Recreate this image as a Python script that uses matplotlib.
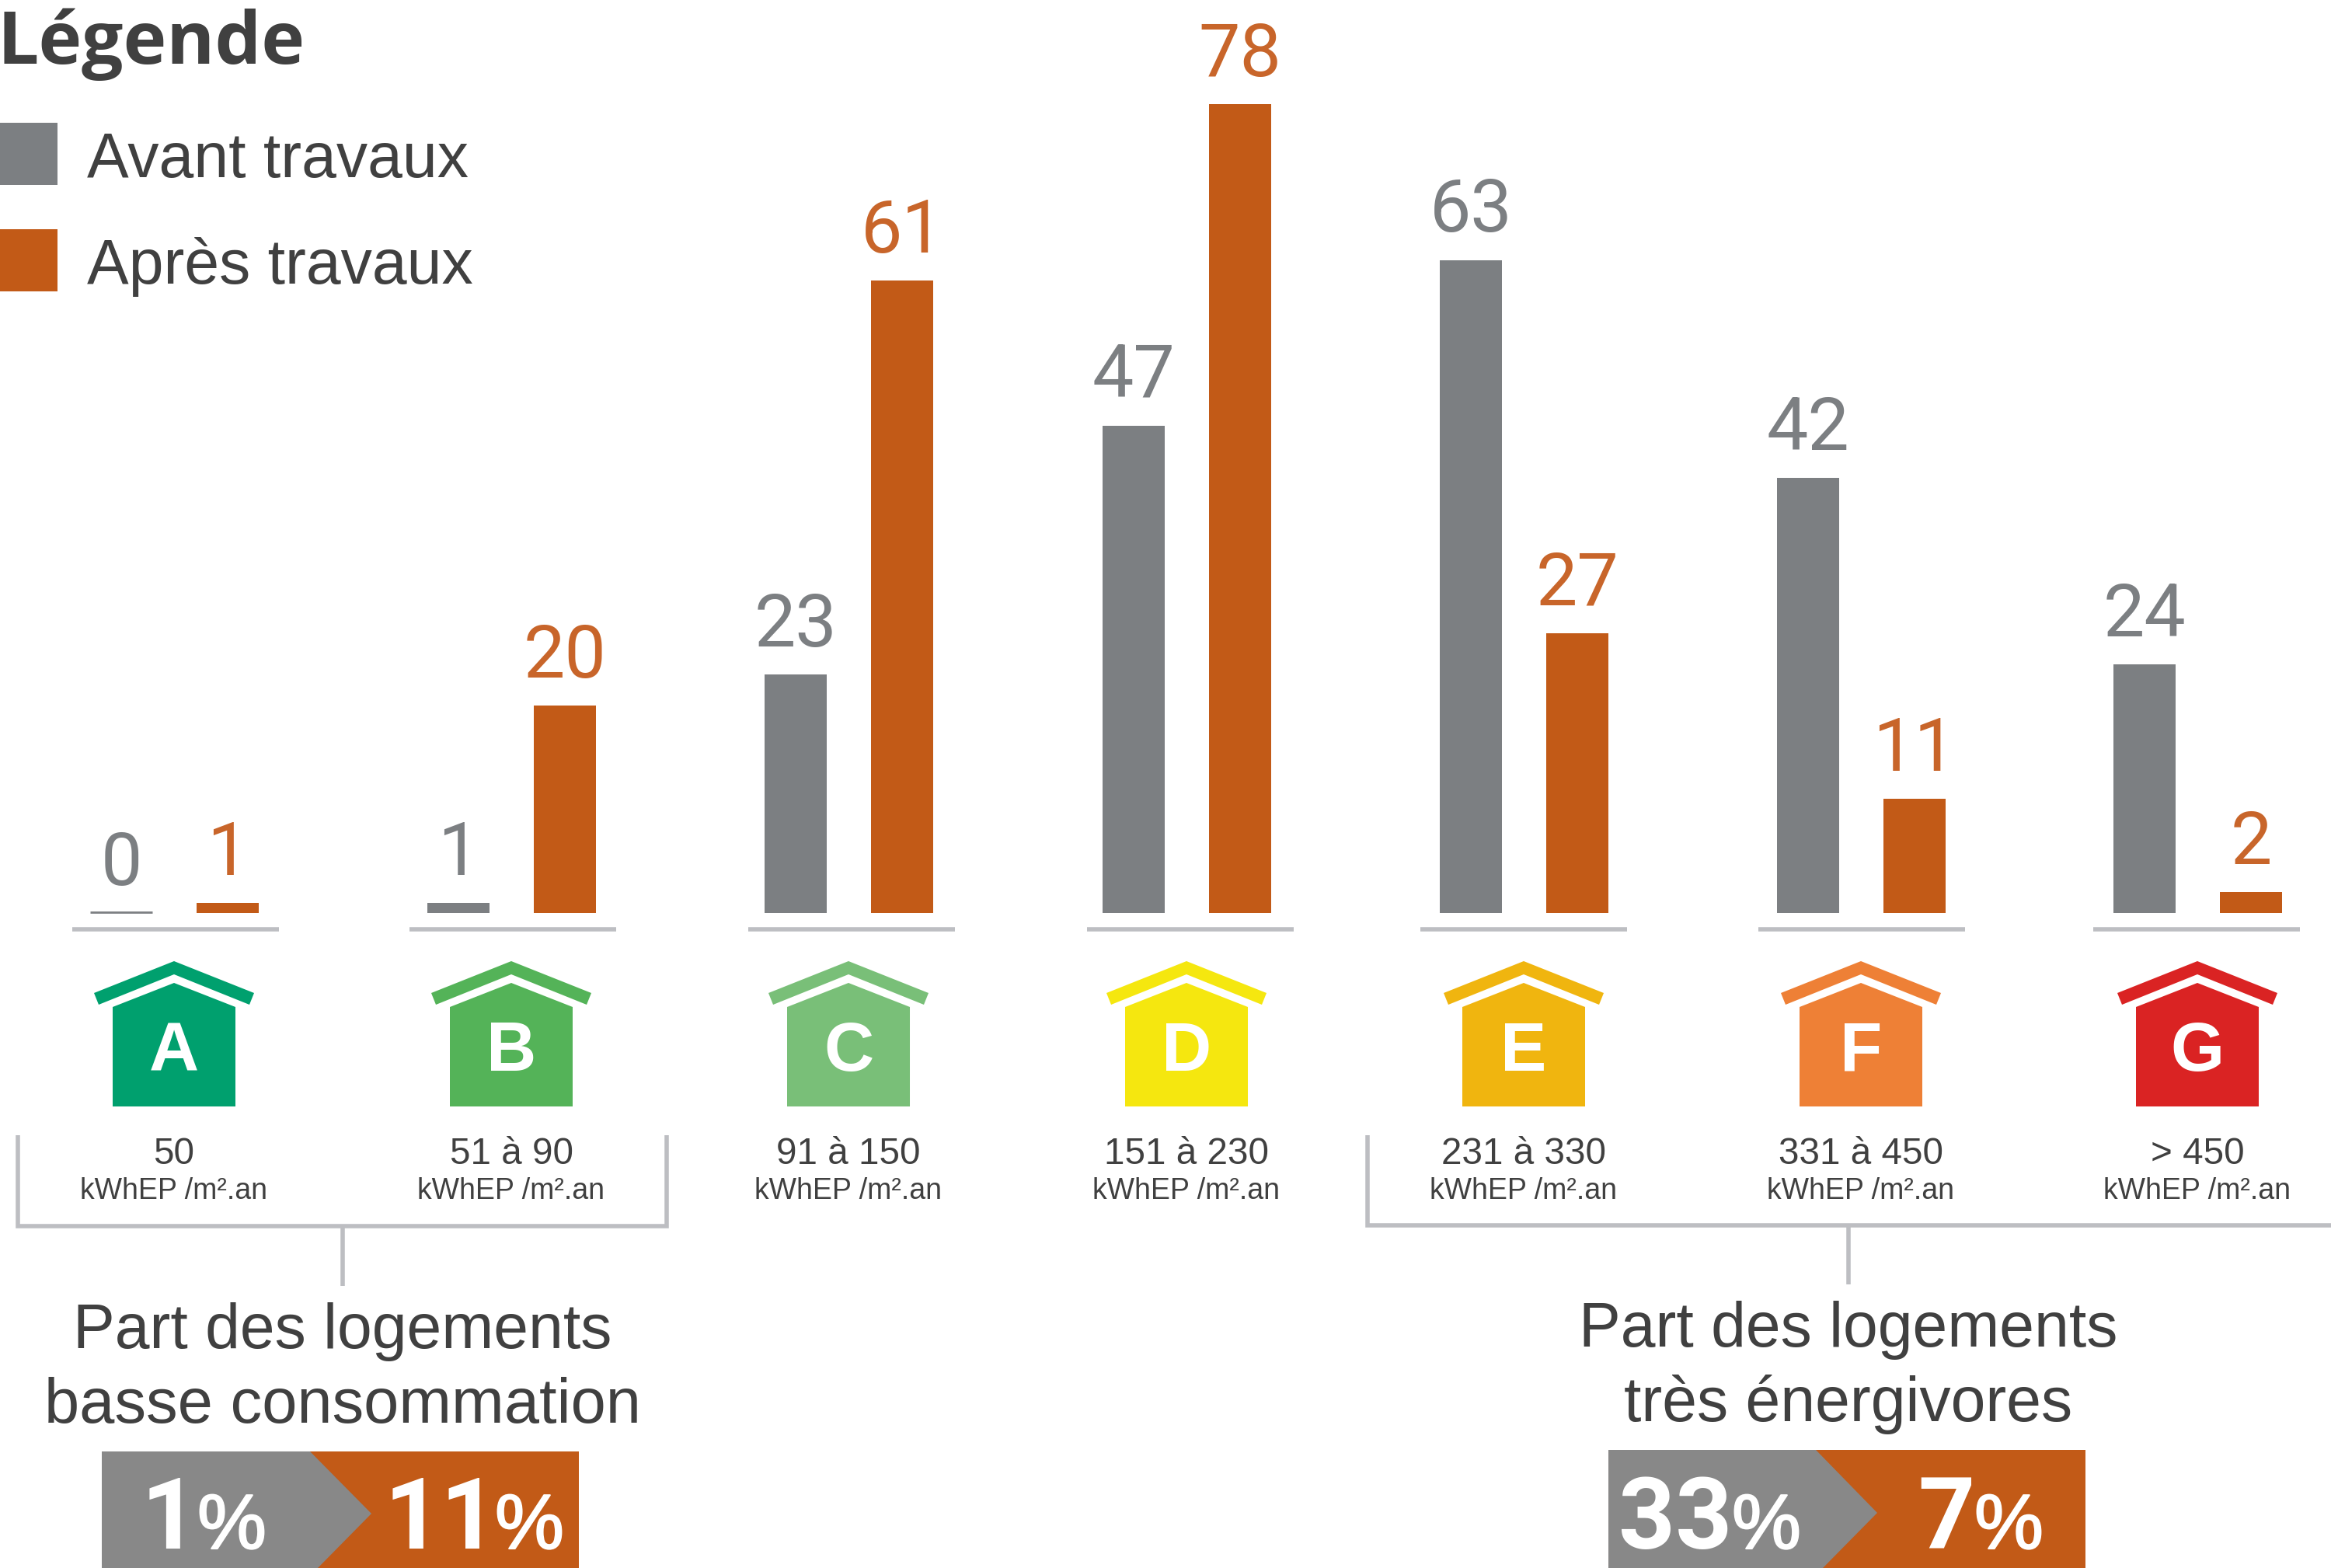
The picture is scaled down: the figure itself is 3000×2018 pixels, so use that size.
import matplotlib
matplotlib.use('Agg')
import matplotlib.pyplot as plt
import matplotlib.patheffects as pe
from matplotlib.patches import Polygon, Rectangle

plt.rcParams['font.family'] = ['Liberation Sans', 'DejaVu Sans']

classes = ['A', 'B', 'C', 'D', 'E', 'F', 'G']
ranges = ['50', '51 à 90', '91 à 150', '151 à 230', '231 à 330', '331 à 450', '> 450']
avant = [0, 1, 23, 47, 63, 42, 24]
apres = [1, 20, 61, 78, 27, 11, 2]
house_colors = ['#00A06E', '#54B358', '#79BF78', '#F5E70F', '#F0B50F', '#EE8036', '#DA2323']

GREY = '#7C7F82'
ORANGE = '#C25A17'
ORANGE_TXT = '#C8652A'
BOX_GREY = '#888888'
TEXT = '#404040'
LINE = '#BDBEC2'

W, H = 3000, 2018
BASE = 1175
PX_PER_UNIT = 13.34

# centre de chaque groupe, en pixels
group_x = [224, 658, 1092, 1527, 1961, 2395, 2828]
line_x = [226, 660, 1096, 1532, 1961, 2396, 2827]
x_avant = [x - 68 for x in group_x]
x_apres = [x + 69 for x in group_x]

fig = plt.figure(figsize=((W + 0.01) / 100, (H + 0.01) / 100), dpi=100, facecolor='white')

# axe des barres : y en valeurs, x en pixels
ax = fig.add_axes([0, 0, 1, 1])
ax.set_xlim(0, W)
ax.set_ylim(-(H - BASE) / PX_PER_UNIT, BASE / PX_PER_UNIT)
ax.axis('off')

ax.bar(x_avant, avant, width=80, color=GREY)
ax.bar(x_apres, apres, width=80, color=ORANGE)

for x, v in zip(x_avant, avant):
    if v == 0:
        ax.hlines(0.1, x - 40, x + 40, color=GREY, lw=2)
    ax.annotate(str(v), (x, v), xytext=(0, 26), textcoords='offset points', ha='center', va='baseline',
                fontsize=68.5, family=['Roboto', 'DejaVu Sans'], color=GREY)
for x, v in zip(x_apres, apres):
    ax.annotate(str(v), (x, v), xytext=(0, 26), textcoords='offset points', ha='center', va='baseline',
                fontsize=68.5, family=['Roboto', 'DejaVu Sans'], color=ORANGE_TXT)

# calque du décor, en pixels
deco = fig.add_axes([0, 0, 1, 1])
deco.set_xlim(0, W)
deco.set_ylim(H, 0)
deco.axis('off')
deco.patch.set_alpha(0)


def draw_house(cx, color, letter):
    roof = [(cx - 103, 1278), (cx, 1237), (cx + 103, 1278), (cx + 97, 1293), (cx, 1254), (cx - 97, 1293)]
    body = [(cx - 79, 1296), (cx, 1265), (cx + 79, 1296), (cx + 79, 1424), (cx - 79, 1424)]
    deco.add_patch(Polygon(roof, closed=True, color=color, lw=0))
    deco.add_patch(Polygon(body, closed=True, color=color, lw=0))
    deco.text(cx, 1378, letter, ha='center', va='baseline', fontsize=64, fontweight='bold', color='white')


for cx, lx, c, col, rng in zip(group_x, line_x, classes, house_colors, ranges):
    deco.plot([lx - 133, lx + 133], [1196, 1196], color=LINE, lw=4, solid_capstyle='butt')
    draw_house(cx, col, c)
    deco.text(cx, 1498, rng, ha='center', va='baseline', fontsize=34.3, color=TEXT)
    deco.text(cx - 1, 1543, 'kWhEP /m².an', ha='center', va='baseline', fontsize=27, color=TEXT)

# légende
deco.text(-3, 82, 'Légende', ha='left', va='baseline', fontsize=68, fontweight='bold',
          family=['Open Sans', 'DejaVu Sans'], color=TEXT)
deco.add_patch(Rectangle((0, 158), 74, 80, color=GREY, lw=0))
deco.add_patch(Rectangle((0, 295), 74, 80, color=ORANGE, lw=0))
deco.text(112, 228, 'Avant travaux', ha='left', va='baseline', fontsize=58, color=TEXT)
deco.text(112, 365, 'Après travaux', ha='left', va='baseline', fontsize=58, color=TEXT)

# accolades
deco.plot([23, 23, 858, 858], [1461, 1578, 1578, 1461], color=LINE, lw=4, solid_joinstyle='miter', solid_capstyle='butt')
deco.plot([441, 441], [1578, 1655], color=LINE, lw=4, solid_capstyle='butt')
deco.plot([1760, 1760, 3000], [1461, 1577, 1577], color=LINE, lw=4, solid_joinstyle='miter', solid_capstyle='butt')
deco.plot([2379, 2379], [1577, 1653], color=LINE, lw=4, solid_capstyle='butt')

deco.text(441, 1735, 'Part des logements', ha='center', va='baseline', fontsize=58, color=TEXT)
deco.text(441, 1831, 'basse consommation', ha='center', va='baseline', fontsize=58.5, color=TEXT)
deco.text(2379, 1733, 'Part des logements', ha='center', va='baseline', fontsize=58, color=TEXT)
deco.text(2379, 1829, 'très énergivores', ha='center', va='baseline', fontsize=58, color=TEXT)


def draw_box(x0, x1, y0, top_x, tip_x, tip_y, bot_x):
    deco.add_patch(Rectangle((x0, y0), x1 - x0, H - y0, color=ORANGE, lw=0))
    deco.add_patch(Polygon([(x0, y0), (top_x, y0), (tip_x, tip_y), (bot_x, H), (x0, H)], closed=True, color=BOX_GREY, lw=0))


draw_box(131, 745, 1868, 399, 478, 1948, 409)
draw_box(2070, 2684, 1866, 2337, 2416, 1947, 2346)

for x_num, x_pct, num in [(182, 254, '1'), (495, 637, '11'), (2083, 2229, '33'), (2468, 2541, '7')]:
    deco.text(x_num, 1993, num, ha='left', va='baseline', fontsize=92, fontweight='bold',
              family=['Roboto', 'DejaVu Sans'], color='white')
    deco.text(x_pct, 1993, '%', ha='left', va='baseline', fontsize=72, color='white',
              path_effects=[pe.withStroke(linewidth=1.5, foreground='white')])

fig.savefig('out.png', dpi=100, facecolor='white')
